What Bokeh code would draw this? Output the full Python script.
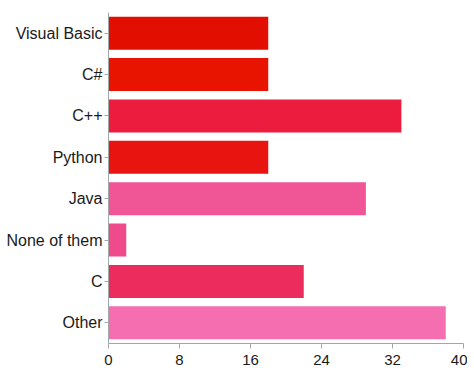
from bokeh.plotting import figure
from bokeh.models import ColumnDataSource, FixedTicker
from bokeh.embed import file_html
from bokeh.resources import INLINE

languages = ["Visual Basic", "C#", "C++", "Python", "Java", "None of them", "C", "Other"]
counts = [18, 18, 33, 18, 29, 2, 22, 38]
colors = ["#e20f00", "#e81400", "#ec1c3e", "#e81410", "#f05596", "#ee4a8c", "#ec2c5c", "#f46eb0"]
x_ticks = [0, 8, 16, 24, 32, 40]

src = ColumnDataSource(dict(lang=languages, count=counts, color=colors))

p = figure(y_range=list(reversed(languages)), x_range=(0, 40),
           frame_width=355, frame_height=331, output_backend="svg", toolbar_location=None,
           min_border_left=108, min_border_right=4, min_border_top=12, min_border_bottom=20)

p.hbar(y="lang", right="count", left=0, height=0.8, color="color", source=src, line_color=None)

p.y_range.range_padding = 0
p.xgrid.visible = False
p.ygrid.visible = False
p.outline_line_color = None

for ax in (p.xaxis[0], p.yaxis[0]):
    ax.axis_line_color = "#a0a8a8"
    ax.major_tick_line_color = "#a0a8a8"
    ax.minor_tick_line_color = None
    ax.major_tick_in = 0
    ax.major_label_text_font = "Liberation Sans"
    ax.major_label_text_color = "#1a1a1a"

p.yaxis.major_label_text_font_size = "16px"
p.xaxis.major_label_text_font_size = "15px"
p.xaxis.ticker = FixedTicker(ticks=x_ticks)
p.xaxis.major_tick_out = 5
p.xaxis.major_label_standoff = 6
p.yaxis.major_tick_out = 4
p.yaxis.major_label_standoff = 2

open("out.html", "w").write(file_html(p, INLINE))
